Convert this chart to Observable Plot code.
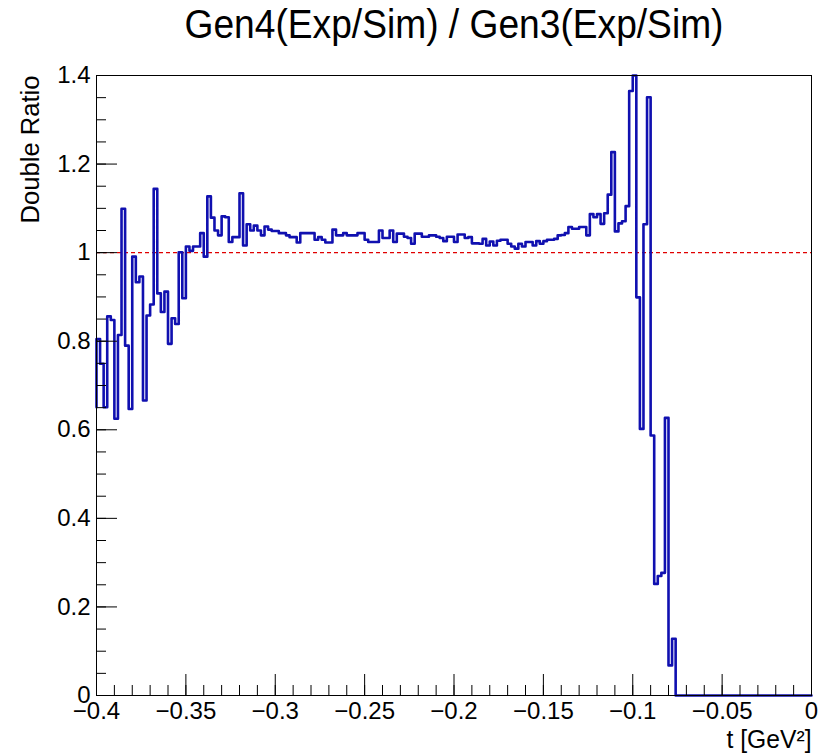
<!DOCTYPE html>
<html>
<head>
<meta charset="utf-8">
<script src="https://cdn.jsdelivr.net/npm/d3@7"></script>
<script src="https://cdn.jsdelivr.net/npm/@observablehq/plot@0.6"></script>
<style>
  html, body { margin: 0; padding: 0; background: #ffffff; }
  #chart { width: 827px; height: 754px; }
</style>
</head>
<body>
<div id="chart"></div>
<script>
// ---- data ----
const titleText = "Gen4(Exp/Sim) / Gen3(Exp/Sim)";
const xLabel = "t [GeV\u00B2]";
const yLabel = "Double Ratio";

const tStart = -0.4;      // lower edge of first bin
const binWidth = 0.002;   // bin width in GeV^2
const leadIn = 0.651;     // value drawn at the left frame edge

// Double ratio per bin, 200 bins from -0.4 to 0
const ratio = [
  0.805, 0.749, 0.651, 0.856, 0.848, 0.625, 0.814, 1.099, 0.790, 0.647,
  0.991, 0.933, 0.946, 0.666, 0.858, 0.883, 1.144, 0.908, 0.866, 0.912,
  0.794, 0.852, 0.839, 1.001, 0.897, 1.014, 1.004, 1.014, 1.014, 1.044,
  0.991, 1.127, 1.079, 1.050, 1.039, 1.082, 1.080, 1.024, 1.035, 1.035,
  1.134, 1.016, 1.064, 1.050, 1.061, 1.050, 1.039, 1.059, 1.052, 1.049,
  1.049, 1.044, 1.044, 1.039, 1.035, 1.035, 1.023, 1.044, 1.044, 1.044,
  1.044, 1.029, 1.035, 1.029, 1.023, 1.023, 1.052, 1.039, 1.039, 1.044,
  1.039, 1.039, 1.039, 1.044, 1.044, 1.029, 1.024, 1.024, 1.024, 1.050,
  1.033, 1.033, 1.050, 1.024, 1.043, 1.043, 1.036, 1.033, 1.020, 1.043,
  1.043, 1.036, 1.036, 1.039, 1.039, 1.036, 1.033, 1.026, 1.036, 1.036,
  1.024, 1.041, 1.041, 1.033, 1.035, 1.021, 1.021, 1.020, 1.031, 1.016,
  1.025, 1.016, 1.027, 1.029, 1.029, 1.020, 1.014, 1.009, 1.020, 1.014,
  1.024, 1.024, 1.016, 1.026, 1.020, 1.026, 1.029, 1.029, 1.031, 1.039,
  1.040, 1.044, 1.058, 1.054, 1.054, 1.058, 1.058, 1.039, 1.087, 1.080,
  1.087, 1.065, 1.089, 1.131, 1.227, 1.048, 1.066, 1.071, 1.105, 1.365,
  1.400, 0.899, 0.602, 1.064, 1.351, 0.587, 0.252, 0.270, 0.277, 0.627,
  0.068, 0.128, 0, 0, 0, 0, 0, 0, 0, 0,
  0, 0, 0, 0, 0, 0, 0, 0, 0, 0,
  0, 0, 0, 0, 0, 0, 0, 0, 0, 0,
  0, 0, 0, 0, 0, 0, 0, 0, 0, 0
];

const refLine = [1];

// tick values
const xMajor = [-0.4, -0.35, -0.3, -0.25, -0.2, -0.15, -0.1, -0.05, 0];
const xMinor = d3.range(0, 41).map(i => -0.4 + i * 0.01);
const yMajor = [0, 0.2, 0.4, 0.6, 0.8, 1.0, 1.2, 1.4];
const yMinor = d3.range(0, 29).map(i => i * 0.05);

// ---- build step outline (left edges + closing point) ----
const steps = [{t: tStart, v: leadIn}];
ratio.forEach((v, i) => steps.push({t: tStart + i * binWidth, v}));
steps.push({t: tStart + ratio.length * binWidth, v: ratio[ratio.length - 1]});

const W = 827, H = 754;
const mL = 96, mR = 16, mT = 75, mB = 59;
const fw = W - mL - mR, fh = H - mT - mB;
const fmt = d3.format("~g");

const chart = Plot.plot({
  width: W,
  height: H,
  marginLeft: mL,
  marginRight: mR,
  marginTop: mT,
  marginBottom: mB,
  style: {fontFamily: "'Liberation Sans', Arial, Helvetica, sans-serif", background: "#ffffff", color: "#000000"},
  x: {domain: [-0.4, 0]},
  y: {domain: [0, 1.4]},
  marks: [
    Plot.ruleY(refLine, {stroke: "#e00000", strokeWidth: 1.2, strokeDasharray: "4,3"}),
    Plot.lineY(steps, {x: "t", y: "v", curve: "step-after", stroke: "#1010b0", strokeWidth: 2.6}),
    Plot.frame({stroke: "#000000", strokeWidth: 1}),
    // inward ticks
    Plot.tickY(yMajor, {y: d => d, insetRight: fw - 21, stroke: "#000000", strokeWidth: 1}),
    Plot.tickY(yMinor, {y: d => d, insetRight: fw - 10, stroke: "#000000", strokeWidth: 1}),
    Plot.tickX(xMajor, {x: d => d, insetTop: fh - 21, stroke: "#000000", strokeWidth: 1}),
    Plot.tickX(xMinor, {x: d => d, insetTop: fh - 10, stroke: "#000000", strokeWidth: 1}),
    // tick labels
    Plot.axisY(yMajor, {tickSize: 0, tickPadding: 6, fontSize: 24, tickFormat: fmt, label: null}),
    Plot.axisX(xMajor, {tickSize: 0, tickPadding: 6, fontSize: 24, tickFormat: fmt, label: null}),
    // titles
    Plot.text([titleText], {frameAnchor: "top", lineAnchor: "bottom", dy: -38, fontSize: 40, fill: "#000000"}),
    Plot.text([xLabel], {frameAnchor: "bottom-right", textAnchor: "end", lineAnchor: "bottom", dy: 52, fontSize: 25, fill: "#000000"}),
    Plot.text([yLabel], {frameAnchor: "top-left", rotate: -90, textAnchor: "end", lineAnchor: "bottom", dx: -58, dy: 0, fontSize: 25, fill: "#000000"})
  ]
});

// fit text lengths to the reference's narrow Helvetica rendering
const fitText = (content, len) => {
  d3.select(chart).selectAll("text")
    .filter(function() { return this.textContent === content; })
    .attr("textLength", len)
    .attr("lengthAdjust", "spacingAndGlyphs");
};
fitText(titleText, 539);
fitText(yLabel, 148);
fitText(xLabel, 85);

document.getElementById("chart").appendChild(chart);
</script>
</body>
</html>
